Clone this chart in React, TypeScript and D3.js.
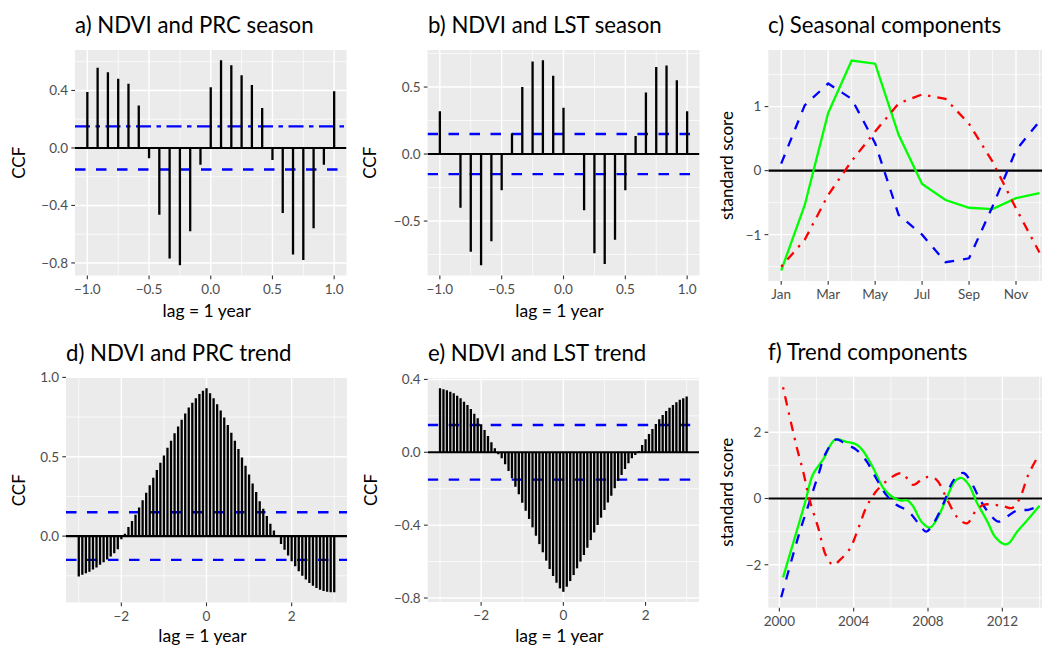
import React from "react";
import * as d3 from "d3";

// ---- data ----
const seasonLags = d3.range(-12, 13).map((m) => m / 12);
const trendLags = d3.range(-36, 37).map((m) => m / 12);

const ndviPrcSeason = [
  0.39, 0.557, 0.527, 0.482, 0.447, 0.296, -0.072, -0.464, -0.769, -0.816, -0.58, -0.117,
  0.422, 0.61, 0.575, 0.506, 0.438, 0.277, -0.084, -0.452, -0.741, -0.78, -0.559, -0.117, 0.394,
];
const ndviLstSeason = [
  0.32, 0.0, -0.4, -0.73, -0.83, -0.65, -0.27, 0.153, 0.5, 0.69, 0.7, 0.584,
  0.346, 0.0, -0.42, -0.74, -0.82, -0.64, -0.27, 0.135, 0.46, 0.65, 0.66, 0.55, 0.32,
];
const ndviPrcTrend = [
  -0.255, -0.243, -0.234, -0.224, -0.211, -0.198, -0.181, -0.165, -0.148, -0.129, -0.108, -0.082,
  -0.02, 0.015, 0.057, 0.095, 0.135, 0.181, 0.226, 0.274, 0.321, 0.367, 0.416, 0.462,
  0.508, 0.557, 0.601, 0.648, 0.69, 0.734, 0.772, 0.81, 0.84, 0.869, 0.895, 0.916,
  0.932, 0.9, 0.869, 0.831, 0.791, 0.747, 0.7, 0.652, 0.601, 0.549, 0.496, 0.443,
  0.388, 0.331, 0.278, 0.219, 0.173, 0.127, 0.078, 0.036, 0.005, -0.049, -0.086, -0.122,
  -0.158, -0.19, -0.222, -0.249, -0.274, -0.295, -0.312, -0.327, -0.338, -0.346, -0.35, -0.354, -0.354,
];
const ndviLstTrend = [
  0.352, 0.346, 0.341, 0.333, 0.324, 0.311, 0.297, 0.278, 0.26, 0.238, 0.212, 0.187,
  0.154, 0.123, 0.09, 0.055, 0.022, -0.011, -0.033, -0.066, -0.103, -0.143, -0.189, -0.231,
  -0.277, -0.321, -0.366, -0.412, -0.458, -0.504, -0.549, -0.595, -0.641, -0.679, -0.716, -0.747,
  -0.766, -0.738, -0.707, -0.674, -0.637, -0.6, -0.564, -0.524, -0.482, -0.44, -0.399, -0.359,
  -0.317, -0.275, -0.238, -0.198, -0.158, -0.125, -0.092, -0.06, -0.033, -0.015, 0.007, 0.04,
  0.071, 0.1, 0.128, 0.156, 0.181, 0.205, 0.227, 0.245, 0.26, 0.275, 0.288, 0.297, 0.306,
];
const ciLimit = 0.15;

const months = [1, 2, 3, 4, 5, 6, 7, 8, 9, 10, 11, 12];
const monthBreaks = [1, 3, 5, 7, 9, 11];
const monthLabels = ["Jan", "Mar", "May", "Jul", "Sep", "Nov"];
const seasonNdvi = [-1.56, -0.54, 0.9, 1.72, 1.67, 0.56, -0.21, -0.46, -0.58, -0.6, -0.43, -0.35];
const seasonLst = [0.11, 1.02, 1.36, 1.12, 0.43, -0.69, -1.0, -1.43, -1.37, -0.56, 0.32, 0.77];
const seasonPrc = [-1.5, -1.08, -0.38, 0.15, 0.61, 1.05, 1.19, 1.12, 0.73, 0.14, -0.59, -1.28];

const trendNdviYears = [
  2000.2, 2000.9, 2001.4, 2001.8, 2002.35, 2003.0, 2003.6, 2004.15, 2004.5, 2005.05, 2005.6, 2006.05,
  2006.5, 2006.9, 2007.2, 2007.65, 2008.1, 2008.5, 2009.0, 2009.45, 2009.8, 2010.2, 2010.6, 2011.2,
  2011.6, 2012.1, 2012.35, 2012.8, 2013.35, 2014.0,
];
const trendNdvi = [
  -2.38, -1.05, -0.09, 0.72, 1.17, 1.78, 1.71, 1.63, 1.44, 0.92, 0.31, 0.06,
  -0.06, -0.06, -0.24, -0.7, -0.88, -0.6, 0.01, 0.52, 0.62, 0.41, -0.09, -0.7,
  -1.15, -1.38, -1.35, -1.0, -0.65, -0.22,
];
const trendLstYears = [
  2000.1, 2001.1, 2001.6, 2002.1, 2002.5, 2003.05, 2003.6, 2004.15, 2004.7, 2005.2, 2005.75, 2006.3,
  2006.95, 2007.55, 2007.9, 2008.3, 2008.8, 2009.4, 2009.9, 2010.4, 2010.8, 2011.35, 2011.8, 2012.25,
  2012.8, 2013.4, 2014.0,
];
const trendLst = [
  -2.98, -1.0, -0.14, 0.72, 1.37, 1.78, 1.63, 1.47, 1.12, 0.62, 0.11, -0.19,
  -0.39, -0.8, -1.0, -0.75, -0.19, 0.57, 0.77, 0.41, -0.04, -0.49, -0.7, -0.55,
  -0.36, -0.34, -0.22,
];
const trendPrcYears = [
  2000.2, 2000.9, 2001.3, 2001.6, 2002.1, 2002.5, 2002.9, 2003.25, 2003.8, 2004.25, 2004.7, 2005.2,
  2005.75, 2006.4, 2006.65, 2007.2, 2007.65, 2008.0, 2008.45, 2009.0, 2009.55, 2010.1, 2010.55, 2011.0,
  2011.55, 2012.1, 2012.5, 2012.9, 2013.4, 2013.95,
];
const trendPrc = [
  3.36, 1.63, 0.77, 0.01, -0.9, -1.71, -2.01, -1.86, -1.51, -0.9, -0.24, 0.21,
  0.52, 0.75, 0.75, 0.41, 0.57, 0.65, 0.57, 0.01, -0.55, -0.75, -0.39, -0.19,
  -0.19, -0.24, -0.29, -0.04, 0.72, 1.3,
];
const yearBreaks = [2000, 2004, 2008, 2012];

// ---- helpers ----
const FONT = "Lato, 'Open Sans', sans-serif";
type Box = { x0: number; x1: number; y0: number; y1: number };
type Lin = d3.ScaleLinear<number, number>;

const expand = (ext: [number, number]): [number, number] => {
  const pad = (ext[1] - ext[0]) * 0.05;
  return [ext[0] - pad, ext[1] + pad];
};

const minorBreaks = (b: number[], dom: number[]) => {
  const step = b[1] - b[0];
  const ext = [b[0] - step, ...b, b[b.length - 1] + step];
  const out: number[] = [];
  for (let i = 0; i < ext.length - 1; i++) {
    const m = (ext[i] + ext[i + 1]) / 2;
    if (m >= dom[0] && m <= dom[1]) out.push(m);
  }
  return out;
};

function Frame(props: {
  id: string;
  box: Box;
  xs: Lin;
  ys: Lin;
  xBreaks: number[];
  xLabels: string[];
  yBreaks: number[];
  yLabels: string[];
  title: string;
  titleAt: [number, number];
  yTitle: string;
  yTitleX: number;
  xTitle?: string;
  xTitleY?: number;
  children: React.ReactNode;
}) {
  const { id, box, xs, ys } = props;
  const xMinor = minorBreaks(props.xBreaks, xs.domain());
  const yMinor = minorBreaks(props.yBreaks, ys.domain());
  const w = box.x1 - box.x0;
  const h = box.y1 - box.y0;
  return (
    <g>
      <defs>
        <clipPath id={`clip-${id}`}>
          <rect x={box.x0} y={box.y0} width={w} height={h} />
        </clipPath>
      </defs>
      <rect x={box.x0} y={box.y0} width={w} height={h} fill="#EBEBEB" />
      {yMinor.map((v) => (
        <line key={"ym" + v} x1={box.x0} x2={box.x1} y1={ys(v)} y2={ys(v)} stroke="#fff" strokeWidth={0.7} />
      ))}
      {xMinor.map((v) => (
        <line key={"xm" + v} y1={box.y0} y2={box.y1} x1={xs(v)} x2={xs(v)} stroke="#fff" strokeWidth={0.7} />
      ))}
      {props.yBreaks.map((v) => (
        <line key={"yM" + v} x1={box.x0} x2={box.x1} y1={ys(v)} y2={ys(v)} stroke="#fff" strokeWidth={1.4} />
      ))}
      {props.xBreaks.map((v) => (
        <line key={"xM" + v} y1={box.y0} y2={box.y1} x1={xs(v)} x2={xs(v)} stroke="#fff" strokeWidth={1.4} />
      ))}
      <g clipPath={`url(#clip-${id})`}>{props.children}</g>
      {props.yBreaks.map((v, i) => (
        <g key={"yt" + v}>
          <line x1={box.x0 - 3.7} x2={box.x0} y1={ys(v)} y2={ys(v)} stroke="#333" strokeWidth={1.1} />
          <text x={box.x0 - 7} y={ys(v)} dy="0.36em" textAnchor="end" fontSize={13.5} fill="#4D4D4D">
            {props.yLabels[i]}
          </text>
        </g>
      ))}
      {props.xBreaks.map((v, i) => (
        <g key={"xt" + v}>
          <line x1={xs(v)} x2={xs(v)} y1={box.y1} y2={box.y1 + 3.7} stroke="#333" strokeWidth={1.1} />
          <text x={xs(v)} y={box.y1 + 18} textAnchor="middle" fontSize={13.5} fill="#4D4D4D">
            {props.xLabels[i]}
          </text>
        </g>
      ))}
      <text x={props.titleAt[0]} y={props.titleAt[1]} fontSize={22.2} fill="#000">
        {props.title}
      </text>
      <text
        transform={`translate(${props.yTitleX},${(box.y0 + box.y1) / 2}) rotate(-90)`}
        textAnchor="middle"
        fontSize={17}
        fill="#000"
      >
        {props.yTitle}
      </text>
      {props.xTitle && (
        <text x={(box.x0 + box.x1) / 2 - 4} y={props.xTitleY} textAnchor="middle" fontSize={17.5} fill="#000">
          {props.xTitle}
        </text>
      )}
    </g>
  );
}

function CcfPanel(props: {
  id: string;
  box: Box;
  lags: number[];
  values: number[];
  xBreaks: number[];
  xFmt: (n: number) => string;
  yBreaks: number[];
  yFmt: (n: number) => string;
  title: string;
  titleAt: [number, number];
  yTitleX: number;
  xTitleY: number;
  upperDash?: string;
}) {
  const { box, lags, values } = props;
  const xs = d3.scaleLinear().domain(expand(d3.extent(lags) as [number, number])).range([box.x0, box.x1]);
  const ys = d3.scaleLinear().domain(expand(d3.extent(values) as [number, number])).range([box.y1, box.y0]);
  return (
    <Frame
      id={props.id}
      box={box}
      xs={xs}
      ys={ys}
      xBreaks={props.xBreaks}
      xLabels={props.xBreaks.map(props.xFmt)}
      yBreaks={props.yBreaks}
      yLabels={props.yBreaks.map(props.yFmt)}
      title={props.title}
      titleAt={props.titleAt}
      yTitle="CCF"
      yTitleX={props.yTitleX}
      xTitle="lag = 1 year"
      xTitleY={props.xTitleY}
    >
      <line x1={box.x0} x2={box.x1} y1={ys(ciLimit)} y2={ys(ciLimit)} stroke="#0000FF" strokeWidth={2.4}
        strokeDasharray={props.upperDash ?? "10.5 10.5"} />
      <line x1={box.x0} x2={box.x1} y1={ys(-ciLimit)} y2={ys(-ciLimit)} stroke="#0000FF" strokeWidth={2.4}
        strokeDasharray="10.5 10.5" />
      {lags.map((l, i) => (
        <line key={i} x1={xs(l)} x2={xs(l)} y1={ys(0)} y2={ys(values[i])} stroke="#000" strokeWidth={2.3} />
      ))}
      <line x1={box.x0} x2={box.x1} y1={ys(0)} y2={ys(0)} stroke="#000" strokeWidth={2.1} />
    </Frame>
  );
}

type Series = { xs: number[]; ys: number[]; color: string; dash?: string };

function LinePanel(props: {
  id: string;
  box: Box;
  series: Series[];
  xBreaks: number[];
  xLabels: string[];
  yBreaks: number[];
  title: string;
  titleAt: [number, number];
  yTitleX: number;
  curve: d3.CurveFactory;
}) {
  const { box, series } = props;
  const allX = series.flatMap((s) => s.xs);
  const allY = series.flatMap((s) => s.ys);
  const xs = d3.scaleLinear().domain(expand(d3.extent(allX) as [number, number])).range([box.x0, box.x1]);
  const ys = d3.scaleLinear().domain(expand(d3.extent(allY) as [number, number])).range([box.y1, box.y0]);
  const line = d3
    .line<[number, number]>()
    .x((d) => xs(d[0]))
    .y((d) => ys(d[1]))
    .curve(props.curve);
  const fmt = d3.format("d");
  return (
    <Frame
      id={props.id}
      box={box}
      xs={xs}
      ys={ys}
      xBreaks={props.xBreaks}
      xLabels={props.xLabels}
      yBreaks={props.yBreaks}
      yLabels={props.yBreaks.map(fmt)}
      title={props.title}
      titleAt={props.titleAt}
      yTitle="standard score"
      yTitleX={props.yTitleX}
    >
      <line x1={box.x0} x2={box.x1} y1={ys(0)} y2={ys(0)} stroke="#000" strokeWidth={2.1} />
      {series.map((s, i) => (
        <path
          key={i}
          d={line(s.xs.map((x, j) => [x, s.ys[j]] as [number, number])) ?? ""}
          fill="none"
          stroke={s.color}
          strokeWidth={2.3}
          strokeDasharray={s.dash}
        />
      ))}
    </Frame>
  );
}

const f1 = d3.format(".1f");
const f0 = d3.format("d");
const dashed = "9.5 9";
const dotdash = "2.4 7 9.5 7";

export default function App() {
  return (
    <svg
      width={1042}
      height={648}
      style={{ position: "absolute", left: 0, top: 0, background: "#fff" }}
      fontFamily={FONT}
    >
      <CcfPanel
        id="a"
        box={{ x0: 75, x1: 346.5, y0: 50, y1: 275.5 }}
        lags={seasonLags}
        values={ndviPrcSeason}
        xBreaks={[-1, -0.5, 0, 0.5, 1]}
        xFmt={f1}
        yBreaks={[-0.8, -0.4, 0, 0.4]}
        yFmt={f1}
        title="a) NDVI and PRC season"
        titleAt={[75, 33]}
        yTitleX={25}
        xTitleY={317}
        upperDash="15 5.5 4.5 5.5"
      />
      <CcfPanel
        id="b"
        box={{ x0: 427.5, x1: 699.5, y0: 50, y1: 275.5 }}
        lags={seasonLags}
        values={ndviLstSeason}
        xBreaks={[-1, -0.5, 0, 0.5, 1]}
        xFmt={f1}
        yBreaks={[-0.5, 0, 0.5]}
        yFmt={f1}
        title="b) NDVI and LST season"
        titleAt={[428, 33]}
        yTitleX={376}
        xTitleY={317}
      />
      <LinePanel
        id="c"
        box={{ x0: 768.3, x1: 1052.4, y0: 50, y1: 281 }}
        series={[
          { xs: months, ys: seasonNdvi, color: "#00FF00" },
          { xs: months, ys: seasonLst, color: "#0000FF", dash: dashed },
          { xs: months, ys: seasonPrc, color: "#FF0000", dash: dotdash },
        ]}
        xBreaks={monthBreaks}
        xLabels={monthLabels}
        yBreaks={[-1, 0, 1]}
        title="c) Seasonal components"
        titleAt={[768, 33]}
        yTitleX={733}
        curve={d3.curveLinear}
      />
      <CcfPanel
        id="d"
        box={{ x0: 66, x1: 347, y0: 378, y1: 602.5 }}
        lags={trendLags}
        values={ndviPrcTrend}
        xBreaks={[-2, 0, 2]}
        xFmt={f0}
        yBreaks={[0, 0.5, 1]}
        yFmt={f1}
        title="d) NDVI and PRC trend"
        titleAt={[66, 361]}
        yTitleX={25}
        xTitleY={642}
      />
      <CcfPanel
        id="e"
        box={{ x0: 427.7, x1: 699, y0: 378, y1: 602 }}
        lags={trendLags}
        values={ndviLstTrend}
        xBreaks={[-2, 0, 2]}
        xFmt={f0}
        yBreaks={[-0.8, -0.4, 0, 0.4]}
        yFmt={f1}
        title="e) NDVI and LST trend"
        titleAt={[428, 361]}
        yTitleX={376.5}
        xTitleY={642}
      />
      <LinePanel
        id="f"
        box={{ x0: 768.3, x1: 1052.4, y0: 376.7, y1: 607.7 }}
        series={[
          { xs: trendNdviYears, ys: trendNdvi, color: "#00FF00" },
          { xs: trendLstYears, ys: trendLst, color: "#0000FF", dash: dashed },
          { xs: trendPrcYears, ys: trendPrc, color: "#FF0000", dash: dotdash },
        ]}
        xBreaks={yearBreaks}
        xLabels={yearBreaks.map(f0)}
        yBreaks={[-2, 0, 2]}
        title="f) Trend components"
        titleAt={[768, 360]}
        yTitleX={733}
        curve={d3.curveCatmullRom}
      />
    </svg>
  );
}
